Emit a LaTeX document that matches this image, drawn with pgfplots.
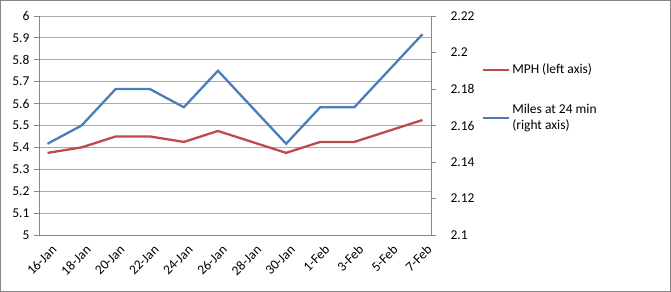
\documentclass[border=0pt]{standalone}
\usepackage{pgfplots}
\pgfplotsset{compat=1.18}
\usepackage{fontspec}
\setmainfont{Carlito}
\definecolor{mphred}{RGB}{190,75,72}
\definecolor{milesblue}{RGB}{74,126,187}
\definecolor{gridgray}{RGB}{170,170,170}
\definecolor{axgray}{RGB}{134,134,134}
\newcommand{\chartfont}{\fontsize{13.5bp}{16bp}\selectfont}
\begin{document}
\begin{tikzpicture}
\path[use as bounding box] (0bp,0bp) rectangle (671bp,292bp);
\draw[axgray, line width=1.2bp] (0.6bp,0.6bp) rectangle (670.4bp,291.4bp);
\pgfplotsset{
  common/.style={
    at={(39bp,57bp)}, anchor=south west,
    scale only axis, width=392bp, height=219bp,
    xmin=-0.5, xmax=22.5,
    axis line style={axgray, line width=1bp},
    tick align=outside,
    major tick length=5bp,
    tick style={axgray, line width=0.8bp},
    /pgf/number format/assume math mode=true,
    tick label style={font=\chartfont},
  }
}
\begin{axis}[common,
  ymin=5, ymax=6,
  ytick={5,5.1,5.2,5.3,5.4,5.5,5.6,5.7,5.8,5.9,6},
  yticklabels={5,5.1,5.2,5.3,5.4,5.5,5.6,5.7,5.8,5.9,6},
  axis y line*=left, axis x line*=bottom,
  ymajorgrids, grid style={gridgray, line width=0.9bp},
  xtick={0,2,4,6,8,10,12,14,16,18,20,22},
  xticklabels={16-Jan,18-Jan,20-Jan,22-Jan,24-Jan,26-Jan,28-Jan,30-Jan,1-Feb,3-Feb,5-Feb,7-Feb},
  x tick style={draw=none},
  x tick label style={rotate=45, anchor=north east, xshift=3bp, yshift=-2bp},
  extra x ticks={-0.5,1.5,3.5,5.5,7.5,9.5,11.5,13.5,15.5,17.5,19.5,21.5},
  extra x tick labels={},
  extra x tick style={grid=none, tick style={axgray, line width=0.8bp, draw=axgray}},
  y tick label style={xshift=-1bp},
]
\addplot[mphred, line width=2.3bp] coordinates {
  (0,5.375) (2,5.4) (4,5.45) (6,5.45) (8,5.425) (10,5.475)
  (14,5.375) (16,5.425) (18,5.425) (22,5.525)
};
\end{axis}
\begin{axis}[common,
  ymin=2.1, ymax=2.22,
  ytick={2.1,2.12,2.14,2.16,2.18,2.2,2.22},
  yticklabels={2.1,2.12,2.14,2.16,2.18,2.2,2.22},
  axis y line*=right, axis x line=none,
  y tick label style={xshift=11bp},
  legend style={draw=none, fill=none, inner sep=0pt, outer sep=0pt,
    at={(1.13,0.79)}, anchor=north west, font=\chartfont,
    cells={anchor=west, align=left}, row sep=25bp},
  legend image code/.code={\draw[#1] (0bp,0bp) -- (26bp,0bp);},
]
\addlegendimage{mphred, line width=2.3bp}
\addlegendentry{MPH (left axis)}
\addplot[milesblue, line width=2.3bp] coordinates {
  (0,2.15) (2,2.16) (4,2.18) (6,2.18) (8,2.17) (10,2.19)
  (14,2.15) (16,2.17) (18,2.17) (22,2.21)
};
\addlegendentry{Miles at 24 min\\(right axis)}
\end{axis}
\end{tikzpicture}
\end{document}
